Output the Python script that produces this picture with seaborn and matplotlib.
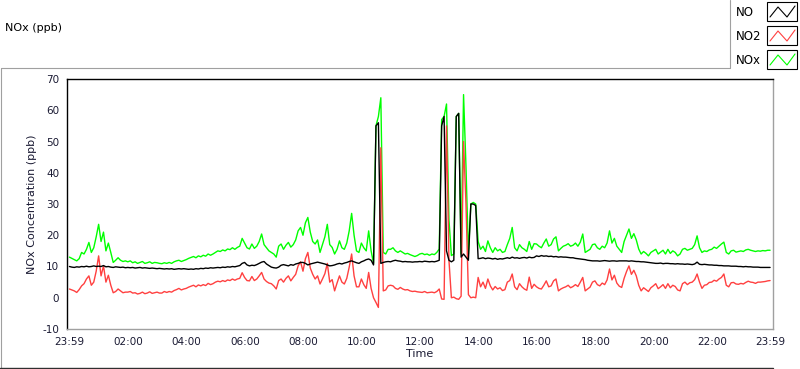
import numpy as np
import pandas as pd
import matplotlib
matplotlib.use("Agg")
import matplotlib.pyplot as plt
from matplotlib.lines import Line2D
from matplotlib.patches import Rectangle
import seaborn as sns

# --- Data: 5-minute readings starting 23:59 (minutes since start) ---
minutes = np.arange(0, 1441, 5)

nox = [
    13, 12.6, 12.2, 11.8, 12.5, 14.5, 14, 15.5, 17.7, 14.5, 16, 19.5,
    23.5, 18, 21, 15, 17.5, 14.5, 11.3, 12, 12.8, 12, 11.6, 11.8,
    11.5, 11.8, 11.2, 11.5, 11, 11.3, 11.6, 11, 11.2, 11.5, 11, 11.3,
    11.2, 11, 10.9, 11.2, 11, 11.3, 11, 11.5, 11.8, 12, 11.6, 11.9,
    12.2, 12.6, 12.9, 13.2, 12.8, 13.4, 13.1, 13.6, 13.3, 14, 13.6, 14,
    14.5, 15, 14.8, 15.3, 15, 15.6, 15.4, 16, 15.5, 16.1, 16.5, 19,
    17.5, 16, 15.6, 17.2, 15.8, 16.5, 18, 20.4, 17, 16, 15, 14.5,
    14, 13, 16.5, 17.2, 15.5, 16.8, 17.7, 16.2, 17, 18.5, 21.4, 22.5,
    20, 24, 25.7, 21, 18, 17.2, 18.5, 14.5, 17, 19.5, 23.5, 17,
    16.1, 14, 15.5, 18.2, 16, 15.5, 17.5, 21.4, 27, 20, 15, 14.5,
    17.5, 16, 15, 21.4, 15, 11, 55, 58, 64, 14.5, 14, 15.5,
    15.5, 16, 15, 14.5, 15, 14.5, 14, 14.2, 13.8, 13.5, 13.2, 13.5,
    14, 14.2, 13.8, 14, 13.6, 14, 13.8, 14.5, 15.6, 57, 58, 62,
    25, 13.5, 14, 58, 59, 14, 65, 42, 14, 30, 30.5, 30,
    18, 15.5, 16.5, 14.8, 18.2, 16, 14.5, 16, 15, 15.5, 14.5, 14.8,
    17, 19, 22.5, 16, 15, 17, 16, 15.5, 14.8, 18, 15.5, 17.3,
    17.2, 16.5, 16, 17.5, 18.8, 16.5, 17, 18.8, 19.5, 15, 15.8, 16.5,
    16.8, 17.3, 16.5, 16.8, 17.5, 16.5, 17.8, 20.4, 14.5, 15, 15.5, 17,
    17.2, 16, 15.5, 16.5, 16, 17.5, 21.4, 17.5, 19, 16.5, 15.5, 14.5,
    18, 20, 22, 19, 20.5, 18.5, 15.6, 14, 14.8, 14.2, 13.4, 14.5,
    15, 15.5, 14, 14.6, 15.2, 14, 15.5, 14.2, 15, 14.5, 13.4, 14,
    15.5, 15.8, 15.2, 15.5, 15.8, 17, 19.8, 16, 14.5, 15, 14.8, 15.3,
    15.5, 16.2, 15.8, 16.5, 17.2, 17.8, 14.5, 14, 15, 15.2, 14.6, 14.8,
    15, 14.8, 15.3, 15.5, 15.2, 15, 14.8, 15, 14.9, 15.1, 15, 15.2,
    15.2,
]

no2 = [
    2.8, 2.5, 2.2, 1.7, 2.6, 3.8, 4.5, 6, 7, 4, 5, 8.5,
    13.4, 7, 10.2, 5, 7.2, 4, 1.6, 2, 2.8, 2.2, 1.6, 1.8,
    1.8, 2, 1.5, 1.6, 1.2, 1.4, 1.8, 1.3, 1.5, 1.9, 1.4, 1.6,
    1.8, 1.5, 1.5, 2, 1.7, 2, 1.8, 2.3, 2.6, 3, 2.5, 2.8,
    3, 3.4, 3.7, 4, 3.5, 4.1, 3.8, 4.2, 3.9, 4.6, 4.2, 4.5,
    5, 5.3, 5.1, 5.5, 5.2, 5.7, 5.5, 6, 5.6, 6, 6.2, 8,
    6.5, 5.5, 5.4, 6.8, 5.5, 6, 7, 8.1, 6, 5.2, 4.7, 4.5,
    3.8, 2.8, 5.5, 6, 5, 6.2, 7, 5.4, 6.5, 7.5, 10.2, 11.5,
    8.5, 12.5, 14.5, 9.5, 7.5, 6, 7, 4.4, 6, 7.7, 11, 5,
    5.8, 2.2, 4.7, 7, 5, 4.4, 6.2, 9.8, 14, 7, 3.5, 3.5,
    6, 4.2, 3, 8.1, 3, 0, -1.5, -3.1, 48, 2.2, 2.5, 3.8,
    4, 3.8, 3, 2.7, 3.3, 2.8, 2.5, 2.6, 2.2, 2, 2.1, 1.9,
    1.8, 1.7, 2, 1.6, 1.7, 1.8, 1.6, 2, 2.8, -0.4, -0.5, 55,
    12, 0, 0.2, -0.3, -0.5, 0.5, 50, 30, 1, 0, 0.2, 0,
    6.5, 3.5, 5, 3, 6, 3.8, 2.5, 3.6, 2.8, 3.2, 2.3, 2.6,
    5, 5.5, 7.6, 3.5, 2.6, 4.5, 3.5, 2.8, 2.4, 6.6, 3, 4.3,
    3.5, 3, 2.8, 4, 5.4, 3.5, 3.8, 5.4, 6, 2.2, 2.8, 3.2,
    3.5, 4, 3.2, 3.6, 4.2, 3.6, 5, 6.5, 2.2, 2.8, 3.4, 5,
    5.4, 4.2, 3.8, 4.7, 4.2, 5.7, 9.2, 5.7, 7.2, 4.7, 3.7, 3.3,
    6.2, 8.4, 10.2, 7.5, 8.8, 7, 4, 2.2, 3.2, 2.6, 2, 3.2,
    3.8, 4.5, 2.9, 3.5, 4.2, 3, 4.5, 3.2, 4, 3.6, 2.5, 2.2,
    4.5, 5, 4.2, 4.8, 5, 5.8, 7.6, 5, 3, 4, 4.2, 4.9,
    5, 5.6, 5.3, 6, 6.5, 7.6, 4, 3.5, 4.8, 4.9, 4.4, 4.3,
    4.6, 4.4, 4.9, 5.3, 5, 4.9, 4.6, 5, 5, 5.1, 5.2, 5.4,
    5.5,
]

no = [
    10, 9.8, 9.7, 9.9, 9.8, 10, 9.9, 10.1, 9.9, 10, 10.2, 10,
    10.1, 10, 10.3, 9.9, 10, 9.8, 9.7, 9.9, 9.8, 9.7, 9.8, 9.6,
    9.7, 9.6, 9.7, 9.5, 9.6, 9.7, 9.5, 9.6, 9.5, 9.4, 9.5, 9.4,
    9.3, 9.4, 9.3, 9.2, 9.3, 9.2, 9.3, 9.1, 9.2, 9.3, 9.2, 9.3,
    9.2, 9.1, 9.2, 9.1, 9.3, 9.2, 9.4, 9.3, 9.5, 9.4, 9.6, 9.5,
    9.6, 9.7, 9.6, 9.8, 9.7, 9.9, 9.8, 10, 9.9, 10.1, 10.3, 11,
    11.3, 10.5, 10.2, 10.4, 10.3, 10.6, 11, 11.4, 11.6, 10.8, 10.3, 9.8,
    9.6, 9.5, 9.8, 10.4, 10.6, 10.4, 10.2, 10.6, 10.4, 10.8, 11, 11.3,
    11.3, 11, 10.5, 10.8, 11, 11.2, 11.4, 11.2, 11, 10.8, 10.5, 10.2,
    10.3, 10.5, 10.8, 11, 10.8, 11.1, 11.3, 11.6, 11.8, 11.5, 11.2, 11,
    11.5, 11.8, 12.2, 12.4, 12, 10.5, 55, 56, 11, 11.3, 11.5, 11.6,
    11.5, 11.8, 12, 11.8, 11.7, 11.5, 11.6, 11.5, 11.5, 11.4, 11.5, 11.5,
    11.6, 11.5, 11.7, 11.6, 11.5, 11.6, 11.5, 11.7, 12, 55, 58, 15,
    12, 11.5, 12, 58, 59, 13, 14, 13, 12, 30, 30, 29.5,
    12.5, 12.6, 12.8, 12.5, 12.7, 12.6, 12.4, 12.6, 12.3, 12.5, 12.4, 12.6,
    12.8, 12.6, 13, 12.7, 12.8, 12.6, 12.8, 12.9, 12.7, 13, 12.8, 12.9,
    13.4, 13.2, 13.5, 13.3, 13.4, 13.2, 13.3, 13.1, 13.2, 13, 13.1, 13,
    13, 12.9, 12.8, 12.8, 12.6, 12.5, 12.4, 12.3, 12.2, 12, 11.9, 11.8,
    11.8, 11.8, 11.7, 11.8, 11.9, 11.8, 11.7, 11.8, 11.8, 11.7, 11.8, 11.8,
    11.8, 11.8, 11.7, 11.8, 11.7, 11.6, 11.6, 11.5, 11.5, 11.4, 11.3, 11.2,
    11.1, 11, 11, 11.1, 10.9, 11, 11, 10.9, 10.9, 10.8, 10.9, 10.8,
    10.8, 10.7, 10.8, 10.7, 10.6, 10.8, 11.4, 10.7, 10.6, 10.7, 10.6, 10.5,
    10.5, 10.4, 10.4, 10.3, 10.3, 10.2, 10.2, 10.2, 10.1, 10.1, 10.1, 10,
    10, 9.9, 10, 9.9, 9.9, 9.8, 9.8, 9.8, 9.7, 9.7, 9.7, 9.7,
    9.7,
]

tick_minutes = [0, 121, 241, 361, 481, 601, 721, 841, 961, 1081, 1201, 1321, 1440]
tick_labels = ["23:59", "02:00", "04:00", "06:00", "08:00", "10:00", "12:00",
               "14:00", "16:00", "18:00", "20:00", "22:00", "23:59"]

series_names = ["NO", "NO2", "NOx"]
colors = {"NO": "#000000", "NO2": "#ff4040", "NOx": "#00ff00"}

df = pd.concat([
    pd.DataFrame({"minute": minutes, "value": no, "series": "NO"}),
    pd.DataFrame({"minute": minutes, "value": no2, "series": "NO2"}),
    pd.DataFrame({"minute": minutes, "value": nox, "series": "NOx"}),
])

# --- Style ---
sns.set_style("white")
plt.rcParams["font.family"] = ["DejaVu Sans"]
plt.rcParams["axes.unicode_minus"] = False
text_col = "#1a1a33"

W, H = 800, 369
fig = plt.figure(figsize=(W / 100, H / 100), dpi=100)


def fx(x):
    return x / W


def fy(y):
    return 1 - y / H


ax = fig.add_axes([fx(67), fy(329), fx(773) - fx(67), fy(79) - fy(329)])

sns.lineplot(data=df, x="minute", y="value", hue="series",
             hue_order=["NOx", "NO2", "NO"], palette=colors,
             estimator=None, legend=False, linewidth=1.0, ax=ax)

ax.set_xlim(-5, 1446)
ax.set_ylim(-10, 70)
ax.set_yticks(range(-10, 71, 10))
ax.set_xticks(tick_minutes)
ax.set_xticklabels(tick_labels)
ax.tick_params(axis="both", direction="out", length=4, width=0.8,
               colors="#333333", labelsize=7.5, labelcolor=text_col, pad=1.5)
ax.set_xlabel("Time", fontsize=8, color=text_col, labelpad=2)
ax.set_ylabel("NOx Concentration (ppb)", fontsize=8, color=text_col, labelpad=4)

for side in ["top", "left"]:
    ax.spines[side].set_color("#000000")
    ax.spines[side].set_linewidth(1)
for side in ["bottom", "right"]:
    ax.spines[side].set_color("#a0a0a0")
    ax.spines[side].set_linewidth(1)

# --- Outer frame and graph label ---
fig.add_artist(Line2D([fx(1), fx(730)], [fy(68), fy(68)], color="#a0a0a0", lw=0.8))
fig.add_artist(Line2D([fx(1), fx(1)], [fy(68), fy(368)], color="#a0a0a0", lw=0.8))
fig.add_artist(Line2D([fx(0), fx(773)], [fy(368), fy(368)], color="#303030", lw=1))
fig.text(fx(5), fy(28), "NOx (ppb)", fontsize=8, color="#000000", va="center", ha="left")

# --- Plot legend (top right) ---
fig.add_artist(Line2D([fx(730), fx(730)], [fy(0), fy(68)], color="#a0a0a0", lw=0.8))
for i, name in enumerate(series_names):
    top = 2 + i * 24
    fig.text(fx(736), fy(top + 10), name, fontsize=8.5, color="#000000",
             va="center", ha="left")
    fig.add_artist(Rectangle((fx(767), fy(top + 19)), fx(30), fy(0) - fy(19),
                             transform=fig.transFigure, fill=False,
                             edgecolor="#000000", lw=0.8))
    zx = [770, 778, 787, 795]
    zy = [top + 15, top + 5, top + 15, top + 4]
    fig.add_artist(Line2D([fx(v) for v in zx], [fy(v) for v in zy],
                          color=colors[name], lw=0.8))

fig.savefig("out.png", dpi=100)
